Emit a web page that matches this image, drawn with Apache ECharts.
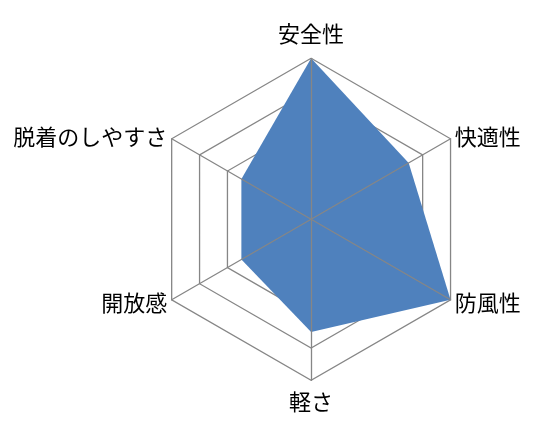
<!DOCTYPE html>
<html>
<head>
<meta charset="utf-8">
<script src="https://cdn.jsdelivr.net/npm/echarts@6/dist/echarts.min.js"></script>
<style>
html,body{margin:0;padding:0;background:#fff;}
#chart{width:542px;height:436px;}
</style>
</head>
<body>
<div id="chart"></div>
<script>
// Indicators listed clockwise from the top
const categories = ['安全性', '快適性', '防風性', '軽さ', '開放感', '脱着のしやすさ'];
const values = [5, 3.5, 5, 3.5, 2.5, 2.5];
const maxValue = 5;

const chart = echarts.init(document.getElementById('chart'), null, {renderer: 'canvas'});

// ECharts places indicators counterclockwise; reorder so the picture goes clockwise
const order = [0, 5, 4, 3, 2, 1];
const indicators = order.map(i => ({name: categories[i], max: maxValue, min: 0}));
const seriesValues = order.map(i => values[i]);

const center = ['57.4%', '50.3%'];
const radius = 161;
const lineColor = '#868686';
const font = '"Noto Sans CJK JP", sans-serif';
const fs = 22;

chart.setOption({
  animation: false,
  radar: [
    {
      indicator: indicators,
      center: center,
      radius: radius,
      startAngle: 90,
      splitNumber: 5,
      shape: 'polygon',
      z: 1,
      nameGap: 5,
      axisName: {
        color: '#000',
        fontSize: fs,
        fontFamily: font,
        verticalAlign: 'middle',
        formatter: function (name) {
          if (name === '安全性') return '{t|' + name + '}';
          if (name === '軽さ') return '{b|' + name + '}';
          return name;
        },
        rich: {
          t: {fontSize: fs, color: '#000', fontFamily: font, padding: [0, 0, 40, 0]},
          b: {fontSize: fs, color: '#000', fontFamily: font, padding: [32, 0, 0, 0]}
        }
      },
      axisLine: {show: false},
      splitLine: {show: true, lineStyle: {color: lineColor, width: 1.3}},
      splitArea: {show: false}
    },
    {
      indicator: indicators,
      center: center,
      radius: radius,
      startAngle: 90,
      splitNumber: 5,
      shape: 'polygon',
      z: 3,
      axisName: {show: false},
      axisLine: {show: true, lineStyle: {color: lineColor, width: 1.3}},
      splitLine: {show: false},
      splitArea: {show: false}
    }
  ],
  series: [
    {
      type: 'radar',
      radarIndex: 0,
      z: 2,
      symbol: 'none',
      lineStyle: {width: 0},
      areaStyle: {color: '#4F81BD', opacity: 1},
      data: [{value: seriesValues}]
    }
  ]
});
</script>
</body>
</html>
